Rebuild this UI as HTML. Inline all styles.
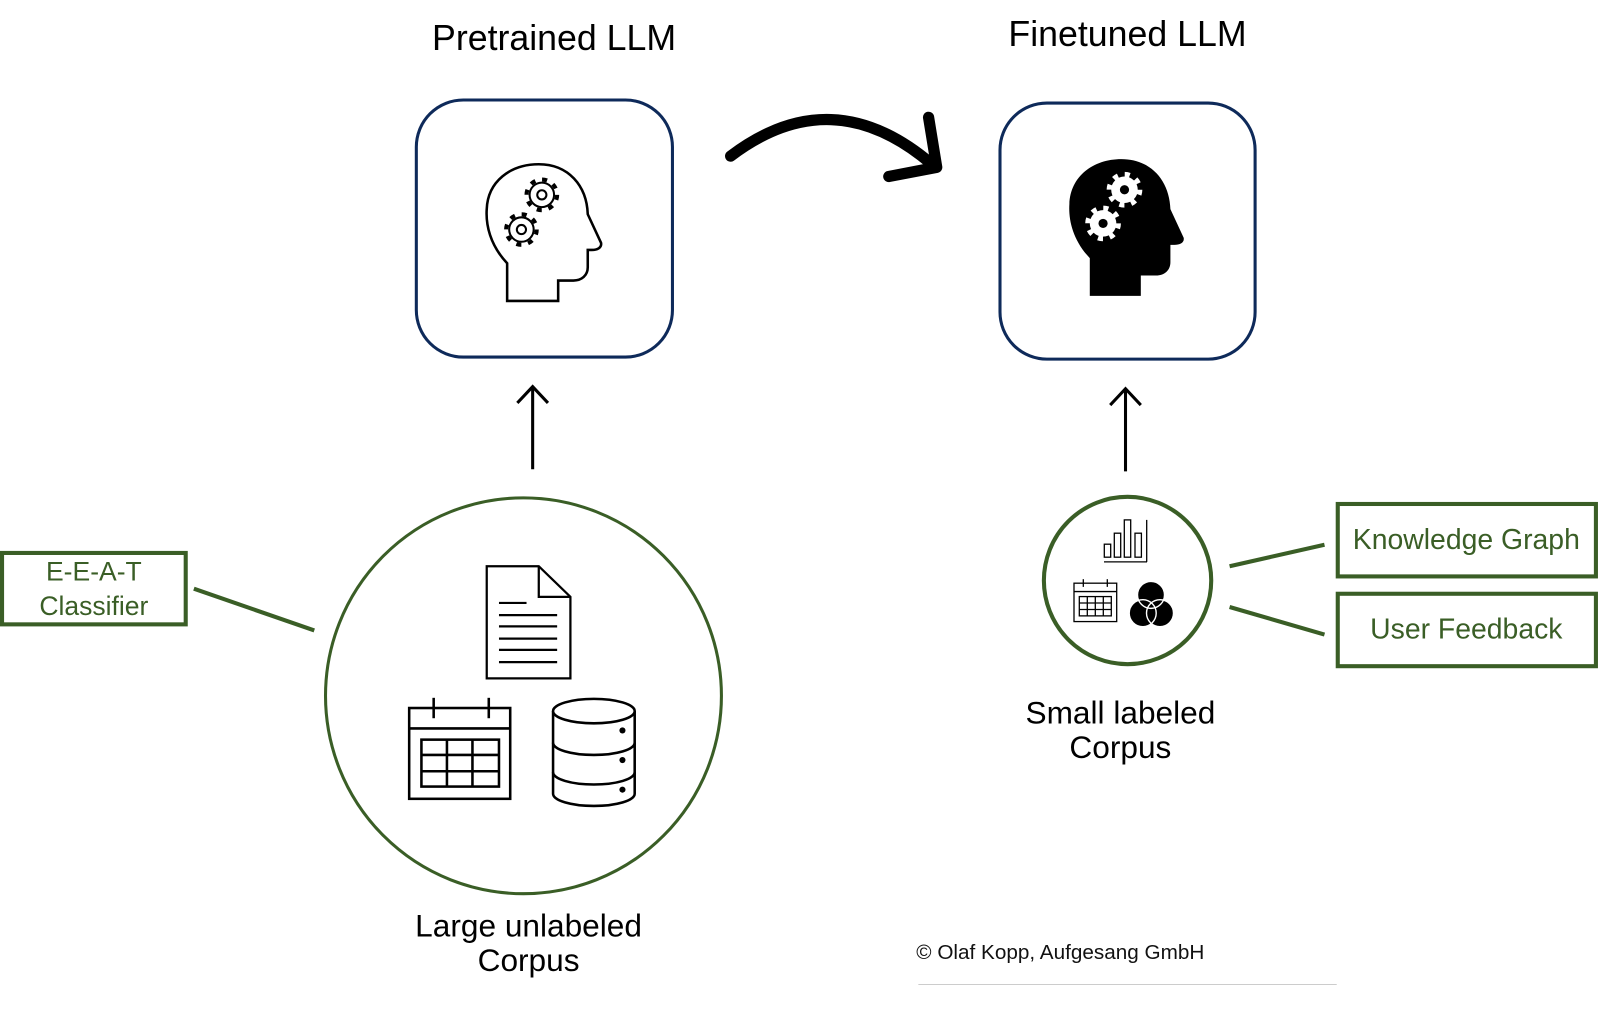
<!DOCTYPE html>
<html><head><meta charset="utf-8"><style>
html,body{margin:0;padding:0;background:#fff;}
svg{display:block;}
text{font-family:"Liberation Sans",sans-serif;}
</style></head><body>
<svg width="1600" height="1010" viewBox="0 0 1568 990" preserveAspectRatio="none" xmlns="http://www.w3.org/2000/svg">
<rect width="1568" height="990" fill="#fff"/>
<text x="543" y="49" font-size="35" text-anchor="middle" fill="#000">Pretrained LLM</text>
<text x="1105" y="45" font-size="35" text-anchor="middle" fill="#000">Finetuned LLM</text>
<rect x="408" y="98" width="251" height="252" rx="46" fill="none" stroke="#0e2a5a" stroke-width="3"/>
<rect x="980" y="101" width="250" height="251" rx="46" fill="none" stroke="#0e2a5a" stroke-width="3"/>
<path d="M497,295 L497,258 C480,240 476,220 477,205 C478,178 500,161 528,161 C557,161 575,182 576,210 L589,238 C590,243 585,245 580,245 L576,245 L576,262 C576,270 570,275 562,275 L547,275 L547,295 Z" fill="#fff" stroke="#000" stroke-width="2.5"/>
<g fill="#fff" stroke="#000">
<circle cx="531" cy="191" r="15" stroke-width="4" stroke-dasharray="5 6.8"/>
<circle cx="531" cy="191" r="12" stroke-width="2"/>
<circle cx="531" cy="191" r="4.5" stroke-width="2"/>
<circle cx="511" cy="225" r="15" stroke-width="4" stroke-dasharray="5 6.8"/>
<circle cx="511" cy="225" r="12" stroke-width="2"/>
<circle cx="511" cy="225" r="4.5" stroke-width="2"/>
</g>
<path transform="translate(571,-5)" d="M497,295 L497,258 C480,240 476,220 477,205 C478,178 500,161 528,161 C557,161 575,182 576,210 L589,238 C590,243 585,245 580,245 L576,245 L576,262 C576,270 570,275 562,275 L547,275 L547,295 Z" fill="#000"/>
<g fill="#fff">
<circle cx="1102" cy="186" r="15" fill="none" stroke="#fff" stroke-width="5" stroke-dasharray="5 6.8"/>
<circle cx="1102" cy="186" r="13"/>
<circle cx="1102" cy="186" r="4.5" fill="#000"/>
<circle cx="1081" cy="219" r="15" fill="none" stroke="#fff" stroke-width="5" stroke-dasharray="5 6.8"/>
<circle cx="1081" cy="219" r="13"/>
<circle cx="1081" cy="219" r="4.5" fill="#000"/>
</g>
<path d="M716,153 Q815,78 912,160" fill="none" stroke="#000" stroke-width="11" stroke-linecap="round"/>
<path d="M910,115 L918,164 L871,173" fill="none" stroke="#000" stroke-width="11" stroke-linecap="round" stroke-linejoin="round"/>
<g stroke="#000" stroke-width="3" fill="none">
<line x1="522" y1="460" x2="522" y2="380"/>
<path d="M507,395 L522,379 L537,395"/>
<line x1="1103" y1="462" x2="1103" y2="382"/>
<path d="M1088,397 L1103,381 L1118,397"/>
</g>
<circle cx="513" cy="682" r="194" fill="none" stroke="#3a5e26" stroke-width="3"/>
<g fill="none" stroke="#000" stroke-width="2.2">
<path d="M477,555 L528,555 L559,585 L559,665 L477,665 Z"/>
<path d="M528,555 L528,585 L559,585"/>
<line x1="489" y1="591" x2="516" y2="591"/>
<line x1="489" y1="603" x2="546" y2="603"/>
<line x1="489" y1="614" x2="546" y2="614"/>
<line x1="489" y1="626" x2="546" y2="626"/>
<line x1="489" y1="637" x2="546" y2="637"/>
<line x1="489" y1="649" x2="546" y2="649"/>
</g>
<g fill="none" stroke="#000" stroke-width="2.5">
<rect x="401" y="694" width="99" height="89"/>
<line x1="401" y1="714" x2="500" y2="714"/>
<line x1="425" y1="684" x2="425" y2="704"/>
<line x1="479" y1="684" x2="479" y2="704"/>
<rect x="413" y="725" width="76" height="46"/>
<line x1="413" y1="740" x2="489" y2="740"/>
<line x1="413" y1="756" x2="489" y2="756"/>
<line x1="438" y1="725" x2="438" y2="771"/>
<line x1="463" y1="725" x2="463" y2="771"/>
</g>
<g fill="#fff" stroke="#000" stroke-width="2.5">
<path d="M542,697 L542,778 A40,12 0 0 0 622,778 L622,697"/>
<ellipse cx="582" cy="697" rx="40" ry="12"/>
<path d="M542,728 A40,12 0 0 0 622,728" fill="none"/>
<path d="M542,757 A40,12 0 0 0 622,757" fill="none"/>
</g>
<g fill="#000"><circle cx="610" cy="716" r="3"/><circle cx="610" cy="745" r="3"/><circle cx="610" cy="774" r="3"/></g>
<text x="518" y="918" font-size="31" text-anchor="middle">Large unlabeled</text>
<text x="518" y="952" font-size="31" text-anchor="middle">Corpus</text>
<rect x="2" y="542" width="180" height="70" fill="none" stroke="#3a5e26" stroke-width="4"/>
<text x="92" y="569" font-size="26" text-anchor="middle" fill="#3a5e26">E-E-A-T</text>
<text x="92" y="603" font-size="26" text-anchor="middle" fill="#3a5e26">Classifier</text>
<line x1="190" y1="577" x2="308" y2="618" stroke="#3a5e26" stroke-width="4"/>
<circle cx="1105" cy="569" r="82" fill="none" stroke="#3a5e26" stroke-width="4"/>
<g transform="scale(0.98)">
<g fill="none" stroke="#000" stroke-width="1.3">
<rect x="1104.3" y="544.3" width="6.4" height="13"/>
<rect x="1114.3" y="533.3" width="6.4" height="24"/>
<rect x="1124.3" y="520" width="6.4" height="37.3"/>
<rect x="1135" y="533.3" width="6.4" height="24"/>
<line x1="1104" y1="562" x2="1147" y2="562"/>
<line x1="1146.7" y1="520" x2="1146.7" y2="562"/>
<rect x="1074" y="583.3" width="42.7" height="38.4"/>
<line x1="1074" y1="591.7" x2="1116.7" y2="591.7"/>
<line x1="1083.3" y1="579.3" x2="1083.3" y2="587"/>
<line x1="1107.3" y1="579.3" x2="1107.3" y2="587"/>
<rect x="1079.3" y="596.7" width="32" height="19.3"/>
<line x1="1079.3" y1="603.1" x2="1111.3" y2="603.1"/>
<line x1="1079.3" y1="609.6" x2="1111.3" y2="609.6"/>
<line x1="1087.3" y1="596.7" x2="1087.3" y2="616"/>
<line x1="1095.3" y1="596.7" x2="1095.3" y2="616"/>
<line x1="1103.3" y1="596.7" x2="1103.3" y2="616"/>
</g>
<g fill="#000"><circle cx="1151" cy="595" r="13.5"/><circle cx="1142.7" cy="613.3" r="13.5"/><circle cx="1160" cy="613.3" r="13.5"/></g>
<g fill="none" stroke="#fff" stroke-width="1.4"><circle cx="1151" cy="595" r="13.5"/><circle cx="1142.7" cy="613.3" r="13.5"/><circle cx="1160" cy="613.3" r="13.5"/></g>
</g>
<text x="1098" y="709" font-size="31" text-anchor="middle">Small labeled</text>
<text x="1098" y="743" font-size="31" text-anchor="middle">Corpus</text>
<line x1="1205" y1="555" x2="1298" y2="534" stroke="#3a5e26" stroke-width="4"/>
<line x1="1205" y1="595" x2="1298" y2="622" stroke="#3a5e26" stroke-width="4"/>
<rect x="1311" y="494" width="253" height="71" fill="none" stroke="#3a5e26" stroke-width="4"/>
<rect x="1311" y="582" width="253" height="71" fill="none" stroke="#3a5e26" stroke-width="4"/>
<text x="1437" y="538" font-size="27.8" text-anchor="middle" fill="#3a5e26">Knowledge Graph</text>
<text x="1437" y="626" font-size="27.8" text-anchor="middle" fill="#3a5e26">User Feedback</text>
<text x="898" y="940" font-size="20.3" fill="#111">© Olaf Kopp, Aufgesang GmbH</text>
<line x1="900" y1="965" x2="1310" y2="965" stroke="#ccc" stroke-width="1"/>
</svg>
</body></html>
